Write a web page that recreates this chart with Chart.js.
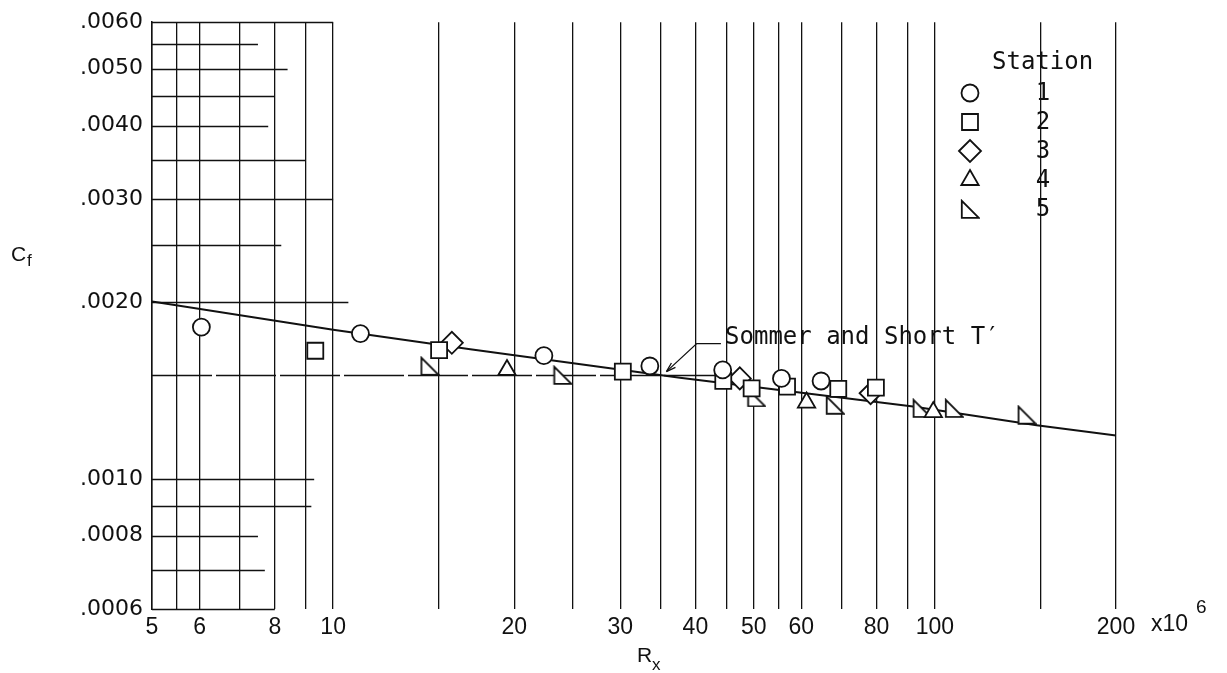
<!DOCTYPE html>
<html>
<head>
<meta charset="utf-8">
<script src="https://cdn.jsdelivr.net/npm/chart.js@4.4.1/dist/chart.umd.min.js"></script>
<style>
    html, body { margin: 0; padding: 0; background: #fff; }
    #wrap { width: 1227px; height: 673px; position: relative; }
</style>
</head>
<body>
<div id="wrap"><canvas id="cfChart"></canvas></div>
<script>
(function () {
    // --- Data (Rx in millions, Cf) ---
    const station1X = [6.04, 11.1, 22.4, 33.6, 44.4, 55.6, 64.7];
    const station1Cf = [0.001814, 0.001768, 0.001621, 0.001557, 0.001533, 0.001483, 0.001468];

    const station2X = [9.34, 15.0, 30.3, 44.5, 49.6, 56.8, 69.1, 79.8];
    const station2Cf = [0.001653, 0.001657, 0.001523, 0.001468, 0.001426, 0.001436, 0.001423, 0.00143];

    const station3X = [15.75, 47.4, 78.2];
    const station3Cf = [0.001705, 0.001483, 0.001399];

    const station4X = [19.45, 61.2, 99.4];
    const station4Cf = [0.001533, 0.001349, 0.001299];

    const station5X = [14.46, 24.05, 50.5, 68.2, 95.1, 107.6, 142.1];
    const station5Cf = [0.001558, 0.001503, 0.001376, 0.001337, 0.00132, 0.00132, 0.001286];

    // Sommer and Short T' curve
    const sommerX = [5, 10, 16.9, 37.7, 92, 147.6, 200];
    const sommerCf = [0.002005, 0.001795, 0.001663, 0.001487, 0.001328, 0.001234, 0.001185];

    // --- Axes ---
    const xGridValues = [5, 5.5, 6, 7, 8, 9, 10, 15, 20, 25, 30, 35, 40, 45, 50, 55, 60, 70, 80, 90, 100, 150, 200];
    const xTickLabels = [5, 6, 8, 10, 20, 30, 40, 50, 60, 80, 100, 200];
    const yTickValues = [0.0006, 0.0008, 0.0010, 0.0020, 0.0030, 0.0040, 0.0050, 0.0060];
    const yGridValues = [0.0006, 0.0007, 0.0008, 0.0009, 0.0010, 0.0015, 0.0020, 0.0025, 0.0030, 0.0035, 0.0040, 0.0045, 0.0050, 0.0055, 0.0060];
    // how far (in Rx) each horizontal rule runs on the old chart paper
    const yGridStops = [8, 7.7, 7.5, 9.2, 9.3, 45, 10.6, 8.2, 10, 9, 7.8, 8, 8.4, 7.5, 10];

    const stationNames = ['1', '2', '3', '4', '5'];

    const INK = '#111';
    const MONO = '"DejaVu Sans Mono", monospace';
    const SANS = '"Liberation Sans", Arial, sans-serif';
    const WIDE = '"DejaVu Sans", sans-serif';

    function toPoints(xs, ys) {
        return xs.map((x, i) => ({ x: x, y: ys[i] }));
    }

    // right-angle triangle marker (vertical left side, flat bottom)
    function makeRightTriangle(w, h, lw) {
        const c = document.createElement('canvas');
        c.width = w + lw * 2;
        c.height = h + lw * 2;
        const g = c.getContext('2d');
        g.strokeStyle = INK;
        g.fillStyle = '#fff';
        g.lineWidth = lw;
        g.beginPath();
        g.moveTo(lw, lw);
        g.lineTo(lw, h + lw);
        g.lineTo(w + lw, h + lw);
        g.closePath();
        g.fill();
        g.stroke();
        return c;
    }
    const rightTri = makeRightTriangle(17, 17, 1.8);

    const markerStyles = [
        { pointStyle: 'circle', radius: 8.5 },
        { pointStyle: 'rect', radius: 11.3 },
        { pointStyle: 'rectRot', radius: 11 },
        { pointStyle: 'triangle', radius: 10 },
        { pointStyle: rightTri, radius: 10 }
    ];

    function stationDataset(xs, ys, idx) {
        const m = markerStyles[idx];
        return {
            label: stationNames[idx],
            data: toPoints(xs, ys),
            pointStyle: m.pointStyle,
            pointRadius: m.radius,
            pointBorderWidth: 1.8,
            pointBorderColor: INK,
            pointBackgroundColor: '#fff',
            showLine: false,
            order: 1
        };
    }

    // --- Plugins ---
    const paperGrid = {
        id: 'paperGrid',
        beforeDatasetsDraw(chart) {
            const { ctx, chartArea, scales } = chart;
            ctx.save();
            ctx.strokeStyle = INK;
            ctx.lineWidth = 1.3;
            yGridValues.forEach((v, i) => {
                const y = Math.round(scales.y.getPixelForValue(v)) + 0.5;
                const x1 = scales.x.getPixelForValue(yGridStops[i]);
                ctx.setLineDash(v === 0.0015 ? [60, 4] : []);
                ctx.beginPath();
                ctx.moveTo(chartArea.left, y);
                ctx.lineTo(x1, y);
                ctx.stroke();
            });
            ctx.restore();
        }
    };

    const callout = {
        id: 'callout',
        afterDatasetsDraw(chart) {
            const { ctx, scales } = chart;
            const px = (x) => scales.x.getPixelForValue(x);
            const py = (y) => scales.y.getPixelForValue(y);
            const tip = [px(35.8), py(0.001523)];
            const elbow = [px(40.2), py(0.0017)];
            const start = [px(44.1), py(0.0017)];

            ctx.save();
            ctx.strokeStyle = INK;
            ctx.fillStyle = INK;
            ctx.lineWidth = 1.3;
            ctx.beginPath();
            ctx.moveTo(start[0], start[1]);
            ctx.lineTo(elbow[0], elbow[1]);
            ctx.lineTo(tip[0], tip[1]);
            ctx.stroke();
            // arrow head
            const ang = Math.atan2(tip[1] - elbow[1], tip[0] - elbow[0]);
            const len = 10;
            ctx.beginPath();
            ctx.moveTo(tip[0], tip[1]);
            ctx.lineTo(tip[0] - len * Math.cos(ang - 0.3), tip[1] - len * Math.sin(ang - 0.3));
            ctx.moveTo(tip[0], tip[1]);
            ctx.lineTo(tip[0] - len * Math.cos(ang + 0.3), tip[1] - len * Math.sin(ang + 0.3));
            ctx.stroke();

            ctx.font = '24px ' + MONO;
            ctx.textBaseline = 'middle';
            ctx.textAlign = 'left';
            ctx.fillText('Sommer and Short T\u2032', px(44.8), py(0.001738));
            ctx.restore();
        }
    };

    const stationKey = {
        id: 'stationKey',
        afterDraw(chart) {
            const { ctx } = chart;
            const symX = 970, numX = 1043, top = 93, step = 29;
            ctx.save();
            ctx.fillStyle = INK;
            ctx.font = '24px ' + MONO;
            ctx.textBaseline = 'middle';
            ctx.textAlign = 'left';
            ctx.fillText('Station', 992, 63);
            ctx.textAlign = 'center';
            stationNames.forEach((name, i) => {
                const y = top + i * step;
                const m = markerStyles[i];
                ctx.strokeStyle = INK;
                ctx.fillStyle = '#fff';
                ctx.lineWidth = 1.8;
                Chart.helpers.drawPoint(ctx, { pointStyle: m.pointStyle, radius: m.radius, borderWidth: 1.8, rotation: 0 }, symX, y);
                ctx.fillStyle = INK;
                ctx.fillText(name, numX, y + 1);
            });
            ctx.restore();
        }
    };

    const axisTitles = {
        id: 'axisTitles',
        afterDraw(chart) {
            const { ctx, scales } = chart;
            ctx.save();
            ctx.fillStyle = INK;
            ctx.textAlign = 'left';
            ctx.textBaseline = 'alphabetic';
            // C_f
            ctx.font = '21px ' + SANS;
            ctx.fillText('C', 11, 261);
            ctx.font = '17px ' + SANS;
            ctx.fillText('f', 27, 266);
            // R_x
            ctx.font = '21px ' + SANS;
            ctx.fillText('R', 637, 662);
            ctx.font = '17px ' + SANS;
            ctx.fillText('x', 652, 670);
            // x10^6 after the last tick
            const x200 = scales.x.getPixelForValue(200);
            ctx.font = '23px ' + SANS;
            ctx.fillText('x10', x200 + 35, 631);
            ctx.font = '19px ' + SANS;
            ctx.fillText('6', x200 + 80, 613);
            ctx.restore();
        }
    };

    // --- Chart ---
    const ctx = document.getElementById('cfChart').getContext('2d');
    window.cfChart = new Chart(ctx, {
        type: 'scatter',
        data: {
            datasets: [
                stationDataset(station1X, station1Cf, 0),
                stationDataset(station2X, station2Cf, 1),
                stationDataset(station3X, station3Cf, 2),
                stationDataset(station4X, station4Cf, 3),
                stationDataset(station5X, station5Cf, 4),
                {
                    label: "Sommer and Short T'",
                    data: toPoints(sommerX, sommerCf),
                    showLine: true,
                    borderColor: INK,
                    borderWidth: 2,
                    pointRadius: 0,
                    fill: false,
                    tension: 0,
                    order: 10
                }
            ]
        },
        options: {
            responsive: true,
            maintainAspectRatio: false,
            animation: false,
            layout: { padding: { left: 0, right: 111, top: 18, bottom: 0 } },
            plugins: {
                legend: { display: false },
                tooltip: { enabled: false }
            },
            scales: {
                x: {
                    type: 'logarithmic',
                    min: 5,
                    max: 200,
                    afterBuildTicks: (scale) => {
                        scale.ticks = xGridValues.map(v => ({ value: v }));
                    },
                    afterFit: (scale) => { scale.height = 64; },
                    grid: { color: INK, lineWidth: 1.3, drawTicks: false },
                    border: { display: false },
                    ticks: {
                        autoSkip: false,
                        maxRotation: 0,
                        padding: 5,
                        color: INK,
                        font: { family: SANS, size: 23 },
                        callback: (v) => (xTickLabels.indexOf(v) >= 0 ? String(v) : '')
                    }
                },
                y: {
                    type: 'logarithmic',
                    min: 0.0006,
                    max: 0.0060,
                    afterBuildTicks: (scale) => {
                        scale.ticks = yTickValues.map(v => ({ value: v }));
                    },
                    afterFit: (scale) => { scale.width = 152; },
                    grid: { display: false, drawTicks: false },
                    border: { display: true, color: INK, width: 1.5 },
                    ticks: {
                        padding: 9,
                        color: INK,
                        font: { family: WIDE, size: 22 },
                        callback: (v) => '.' + String(Math.round(v * 10000)).padStart(4, '0')
                    }
                }
            }
        },
        plugins: [paperGrid, callout, stationKey, axisTitles]
    });
})();
</script>
</body>
</html>
